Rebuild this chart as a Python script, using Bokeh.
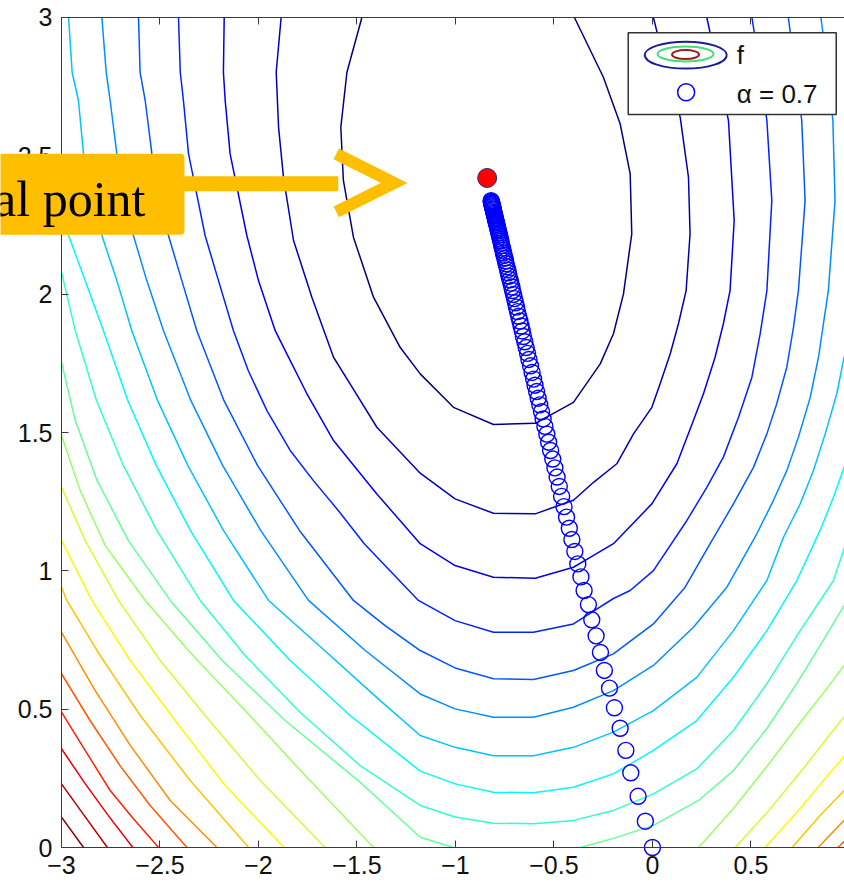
from bokeh.plotting import figure
from bokeh.models import Range1d, LinearAxis, FixedTicker, BoxAnnotation, Label, Arrow, OpenHead
from bokeh.embed import file_html
from bokeh.resources import INLINE

# ---------------- data ----------------
X_TICKS = [-3, -2.5, -2, -1.5, -1, -0.5, 0, 0.5]
X_TICK_LABELS = ["\u22123", "\u22122.5", "\u22122", "\u22121.5", "\u22121", "\u22120.5", "0", "0.5"]
Y_TICKS = [0, 0.5, 1, 1.5, 2, 2.5, 3]
Y_TICK_LABELS = ["0", "0.5", "1", "1.5", "2", "2.5", "3"]

# contour lines of f (level 1 = lowest / innermost, level 20 = highest)
C01_X = [-1.475, -1.551, -1.582, -1.569, -1.518, -1.416, -1.281, -1.179, -1.010, -0.807, -0.595, -0.401, -0.265, -0.198, -0.147, -0.105, -0.113, -0.164, -0.249, -0.396]
C01_Y = [3.0, 2.802, 2.603, 2.411, 2.206, 1.989, 1.808, 1.712, 1.591, 1.529, 1.533, 1.609, 1.748, 1.857, 2.001, 2.218, 2.435, 2.616, 2.784, 3.0]
C02_X = [-1.885, -1.910, -1.898, -1.873, -1.822, -1.729, -1.619, -1.535, -1.399, -1.179, -1.002, -0.807, -0.595, -0.401, -0.299, -0.181, -0.096, -0.003, 0.039, 0.090, 0.132, 0.171, 0.191, 0.183, 0.141, 0.080, 0.024, 0.005]
C02_Y = [3.0, 2.802, 2.603, 2.422, 2.194, 1.989, 1.772, 1.676, 1.519, 1.353, 1.260, 1.208, 1.206, 1.255, 1.320, 1.387, 1.495, 1.591, 1.676, 1.784, 1.893, 2.013, 2.218, 2.422, 2.639, 2.790, 2.945, 3.0]
C03_X = [-2.174, -2.178, -2.169, -2.144, -2.059, -2.000, -1.915, -1.856, -1.754, -1.619, -1.399, -1.179, -1.002, -0.807, -0.595, -0.401, -0.316, -0.198, -0.003, 0.124, 0.208, 0.259, 0.318, 0.360, 0.394, 0.415, 0.386, 0.334, 0.276]
C03_Y = [3.0, 2.802, 2.700, 2.507, 2.212, 2.049, 1.868, 1.784, 1.640, 1.471, 1.278, 1.098, 1.019, 0.977, 0.973, 1.013, 1.049, 1.098, 1.242, 1.387, 1.543, 1.640, 1.772, 1.893, 2.013, 2.266, 2.627, 2.808, 3.0]
C04_X = [-2.406, -2.397, -2.381, -2.355, -2.271, -2.203, -2.127, -2.052, -1.957, -1.839, -1.721, -1.595, -1.463, -1.188, -1.002, -0.807, -0.604, -0.401, -0.198, -0.113, 0.005, 0.175, 0.276, 0.360, 0.437, 0.505, 0.547, 0.581, 0.606, 0.581, 0.547, 0.505]
C04_Y = [3.0, 2.802, 2.700, 2.507, 2.212, 2.049, 1.868, 1.724, 1.579, 1.435, 1.326, 1.218, 1.098, 0.893, 0.820, 0.778, 0.778, 0.808, 0.900, 0.929, 1.001, 1.182, 1.302, 1.411, 1.555, 1.700, 1.857, 2.013, 2.338, 2.627, 2.808, 3.0]
C05_X = [-2.609, -2.601, -2.575, -2.541, -2.457, -2.389, -2.313, -2.175, -2.005, -1.792, -1.518, -1.357, -1.179, -1.002, -0.807, -0.604, -0.401, -0.198, 0.005, 0.166, 0.293, 0.411, 0.513, 0.581, 0.631, 0.682, 0.716, 0.741, 0.775, 0.758, 0.724, 0.690]
C05_Y = [3.0, 2.802, 2.700, 2.507, 2.212, 2.049, 1.868, 1.615, 1.381, 1.146, 0.893, 0.802, 0.712, 0.649, 0.610, 0.607, 0.640, 0.700, 0.808, 0.941, 1.098, 1.242, 1.374, 1.495, 1.604, 1.736, 1.880, 2.013, 2.338, 2.627, 2.808, 3.0]
C06_X = [-2.795, -2.773, -2.753, -2.719, -2.635, -2.567, -2.482, -2.343, -2.182, -1.989, -1.746, -1.458, -1.179, -1.002, -0.807, -0.604, -0.401, -0.198, 0.005, 0.208, 0.378, 0.530, 0.614, 0.682, 0.741, 0.801, 0.843, 0.868, 0.893, 0.927, 0.916, 0.892, 0.855]
C06_Y = [3.0, 2.802, 2.700, 2.507, 2.212, 2.049, 1.868, 1.615, 1.381, 1.146, 0.893, 0.712, 0.555, 0.501, 0.471, 0.471, 0.507, 0.567, 0.658, 0.796, 0.941, 1.134, 1.254, 1.362, 1.483, 1.627, 1.772, 1.893, 2.013, 2.338, 2.627, 2.808, 3.0]
C07_X = [-2.964, -2.946, -2.914, -2.888, -2.844, -2.795, -2.719, -2.643, -2.512, -2.359, -2.178, -1.949, -1.636, -1.382, -1.179, -1.002, -0.807, -0.604, -0.401, -0.198, 0.005, 0.225, 0.411, 0.581, 0.665, 0.750, 0.817, 0.877, 0.936, 0.973, 1.054]
C07_Y = [3.0, 2.802, 2.700, 2.507, 2.356, 2.212, 2.049, 1.868, 1.615, 1.381, 1.146, 0.893, 0.694, 0.531, 0.405, 0.362, 0.332, 0.332, 0.362, 0.417, 0.495, 0.615, 0.784, 0.965, 1.121, 1.242, 1.362, 1.495, 1.640, 1.772, 1.902]
C08_X = [-3.0, -2.964, -2.880, -2.787, -2.663, -2.519, -2.346, -2.127, -1.839, -1.535, -1.179, -1.002, -0.807, -0.604, -0.401, -0.198, 0.005, 0.225, 0.411, 0.581, 0.733, 0.851, 0.919, 0.973, 1.054]
C08_Y = [2.302, 2.212, 2.049, 1.868, 1.615, 1.381, 1.146, 0.893, 0.676, 0.477, 0.276, 0.230, 0.200, 0.198, 0.218, 0.266, 0.351, 0.459, 0.615, 0.784, 0.965, 1.146, 1.266, 1.374, 1.543]
C09_X = [-3.0, -2.990, -2.930, -2.822, -2.686, -2.516, -2.296, -2.068, -1.788, -1.484, -1.179, -1.002, -0.807, -0.604, -0.401, -0.198, 0.005, 0.225, 0.411, 0.581, 0.750, 0.919, 0.973, 1.029]
C09_Y = [2.080, 2.049, 1.868, 1.615, 1.381, 1.146, 0.893, 0.694, 0.488, 0.296, 0.152, 0.110, 0.088, 0.086, 0.098, 0.134, 0.194, 0.284, 0.423, 0.592, 0.784, 0.965, 1.081, 1.200]
C10L_X = [-3.0, -2.930, -2.819, -2.661, -2.448, -2.184, -1.865, -1.494, -1.179, -1.010]
C10L_Y = [1.754, 1.543, 1.326, 1.110, 0.893, 0.676, 0.459, 0.242, 0.037, 0.0]
C10R_X = [-0.367, -0.198, 0.005, 0.234, 0.411, 0.581, 0.733, 0.851, 0.973, 1.054]
C10R_Y = [0.0, 0.033, 0.080, 0.170, 0.278, 0.430, 0.593, 0.730, 0.875, 0.983]
C11L_X = [-3.0, -2.905, -2.778, -2.575, -2.347, -2.068, -1.763, -1.416]
C11L_Y = [1.489, 1.290, 1.091, 0.893, 0.705, 0.495, 0.260, 0.0]
C11R_X = [0.234, 0.411, 0.581, 0.750, 0.877, 0.973, 1.054]
C11R_Y = [0.0, 0.141, 0.293, 0.452, 0.567, 0.658, 0.748]
C12L_X = [-3.0, -2.880, -2.711, -2.499, -2.271, -1.991, -1.662]
C12L_Y = [1.302, 1.110, 0.893, 0.676, 0.477, 0.242, 0.0]
C12R_X = [0.420, 0.581, 0.750, 0.877, 0.973, 1.054]
C12R_Y = [0.0, 0.126, 0.271, 0.387, 0.473, 0.549]
C13L_X = [-3.0, -2.846, -2.651, -2.423, -2.169, -1.870]
C13L_Y = [1.110, 0.893, 0.676, 0.459, 0.224, 0.0]
C13R_X = [0.572, 0.750, 0.877, 0.973, 1.054]
C13R_Y = [0.0, 0.141, 0.249, 0.329, 0.387]
C14L_X = [-3.0, -2.973, -2.804, -2.600, -2.347, -2.050]
C14L_Y = [0.941, 0.893, 0.694, 0.477, 0.242, 0.0]
C14R_X = [0.709, 0.851, 0.973, 1.054]
C14R_Y = [0.0, 0.116, 0.206, 0.271]
C15L_X = [-3.0, -2.829, -2.651, -2.448, -2.211]
C15L_Y = [0.778, 0.567, 0.369, 0.170, 0.0]
C15R_X = [0.841, 0.973, 1.054]
C15R_Y = [0.0, 0.098, 0.159]
C16L_X = [-3.0, -2.855, -2.703, -2.550, -2.363]
C16L_Y = [0.628, 0.459, 0.296, 0.152, 0.0]
C16R_X = [0.942, 1.054]
C16R_Y = [0.0, 0.080]
C17_X = [-3.0, -2.880, -2.753, -2.636, -2.507]
C17_Y = [0.489, 0.351, 0.206, 0.105, 0.0]
C18_X = [-3.0, -2.880, -2.763, -2.638]
C18_Y = [0.357, 0.231, 0.116, 0.0]
C19_X = [-3.0, -2.885, -2.767]
C19_Y = [0.230, 0.116, 0.0]
C20_X = [-3.0, -2.888]
C20_Y = [0.110, 0.0]

# gradient-descent iterates (alpha = 0.7), starting at (0, 0)
PATH_X = [0, -0.036, -0.073, -0.110, -0.135, -0.164, -0.193, -0.218, -0.244, -0.264, -0.286, -0.308, -0.325, -0.347,
          -0.363, -0.379, -0.394, -0.409, -0.422, -0.436, -0.449, -0.461, -0.473, -0.484, -0.495, -0.506, -0.517,
          -0.527, -0.536, -0.546, -0.555, -0.563, -0.572, -0.580, -0.588, -0.596, -0.603,
          -0.611, -0.619, -0.627, -0.634, -0.641, -0.648, -0.655, -0.661, -0.667, -0.673,
          -0.679, -0.685, -0.690, -0.695, -0.700, -0.705, -0.710, -0.714, -0.719, -0.723,
          -0.728, -0.732, -0.735, -0.739, -0.743, -0.746, -0.749, -0.753, -0.756, -0.759,
          -0.762, -0.765, -0.767, -0.770, -0.772, -0.775, -0.777, -0.780, -0.782, -0.784,
          -0.786, -0.788, -0.790, -0.792, -0.794, -0.796, -0.797, -0.799, -0.801, -0.802,
          -0.804, -0.805, -0.807, -0.808, -0.809, -0.810, -0.812, -0.813, -0.814, -0.815,
          -0.816, -0.817, -0.818, -0.819]
PATH_Y = [0, 0.095, 0.185, 0.270, 0.351, 0.431, 0.505, 0.576, 0.640, 0.705, 0.765, 0.823, 0.878, 0.929,
          0.978, 1.025, 1.070, 1.113, 1.154, 1.194, 1.232, 1.269, 1.305, 1.339, 1.372, 1.404, 1.435,
          1.465, 1.494, 1.522, 1.549, 1.575, 1.600, 1.624, 1.648, 1.671, 1.693,
          1.717, 1.741, 1.764, 1.786, 1.807, 1.828, 1.847, 1.867, 1.885, 1.903,
          1.920, 1.937, 1.953, 1.969, 1.984, 1.999, 2.013, 2.026, 2.040, 2.052,
          2.065, 2.077, 2.088, 2.099, 2.110, 2.120, 2.130, 2.140, 2.149, 2.159,
          2.167, 2.176, 2.184, 2.192, 2.199, 2.207, 2.214, 2.221, 2.228, 2.234,
          2.240, 2.246, 2.252, 2.258, 2.263, 2.268, 2.273, 2.278, 2.283, 2.288,
          2.292, 2.296, 2.301, 2.305, 2.308, 2.312, 2.316, 2.319, 2.323, 2.326,
          2.329, 2.332, 2.335, 2.338]

OPT_X = [-0.839]
OPT_Y = [2.420]

N_LEVELS = 20
CONTOUR_ARCS = [
    (1, C01_X, C01_Y), (2, C02_X, C02_Y), (3, C03_X, C03_Y), (4, C04_X, C04_Y), (5, C05_X, C05_Y),
    (6, C06_X, C06_Y), (7, C07_X, C07_Y), (8, C08_X, C08_Y), (9, C09_X, C09_Y),
    (10, C10L_X, C10L_Y), (10, C10R_X, C10R_Y), (11, C11L_X, C11L_Y), (11, C11R_X, C11R_Y),
    (12, C12L_X, C12L_Y), (12, C12R_X, C12R_Y), (13, C13L_X, C13L_Y), (13, C13R_X, C13R_Y),
    (14, C14L_X, C14L_Y), (14, C14R_X, C14R_Y), (15, C15L_X, C15L_Y), (15, C15R_X, C15R_Y),
    (16, C16L_X, C16L_Y), (16, C16R_X, C16R_Y), (17, C17_X, C17_Y), (18, C18_X, C18_Y),
    (19, C19_X, C19_Y), (20, C20_X, C20_Y),
]


def jet(t):
    def c(v):
        return int(round(255 * min(max(v, 0.0), 1.0)))
    r = c(1.5 - abs(4 * t - 3))
    g = c(1.5 - abs(4 * t - 2))
    b = c(1.5 - abs(4 * t - 1))
    return "#%02x%02x%02x" % (r, g, b)


# ---------------- figure ----------------
TICK_FONT = "Liberation Sans"
AXIS_COLOR = "#3a3a3a"
PX_PER_X = 197.0
PX_PER_Y = 276.67
# the frame covers the whole page; the axes are drawn at x = -3, y = 0 and y = 3
X_VIEW = (-3 - 61 / PX_PER_X, 0.975)
Y_VIEW = (-39 / PX_PER_Y, 3 + 17 / PX_PER_Y)

p = figure(width=844, height=886, x_range=Range1d(*X_VIEW), y_range=Range1d(*Y_VIEW),
           output_backend="svg", toolbar_location=None,
           min_border_left=0, min_border_right=0, min_border_top=0, min_border_bottom=0)
p.grid.visible = False
p.outline_line_color = None
p.background_fill_color = "white"
p.border_fill_color = "white"

for ax, ticks, labels, standoff in ((p.xaxis[0], X_TICKS, X_TICK_LABELS, 8), (p.yaxis[0], Y_TICKS, Y_TICK_LABELS, 9)):
    ax.ticker = FixedTicker(ticks=ticks)
    ax.major_label_overrides = {t: l for t, l in zip(ticks, labels)}
    ax.major_tick_in = 7
    ax.major_tick_out = 0
    ax.minor_tick_line_color = None
    ax.axis_line_color = AXIS_COLOR
    ax.major_tick_line_color = AXIS_COLOR
    ax.major_label_text_font = TICK_FONT
    ax.major_label_text_font_size = "25px"
    ax.major_label_text_color = "#111111"
    ax.major_label_standoff = standoff
p.xaxis[0].fixed_location = 0
p.xaxis[0].bounds = (-3, 1)
p.yaxis[0].fixed_location = -3
p.yaxis[0].bounds = (0, 3)

top_axis = LinearAxis(ticker=FixedTicker(ticks=X_TICKS), fixed_location=3, bounds=(-3, 1),
                      major_tick_in=7, major_tick_out=0, minor_tick_line_color=None,
                      axis_line_color=AXIS_COLOR, major_tick_line_color=AXIS_COLOR,
                      major_label_text_color=None)
p.add_layout(top_axis, "above")

# contours
xs = [arc[1] for arc in CONTOUR_ARCS]
ys = [arc[2] for arc in CONTOUR_ARCS]
colors = [jet((arc[0] - 1) / (N_LEVELS - 1)) for arc in CONTOUR_ARCS]
p.multi_line(xs=xs, ys=ys, line_color=colors, line_width=1.5)

# gradient descent iterates
p.scatter(PATH_X, PATH_Y, marker="circle", size=16, fill_color=None, line_color="#0000ff", line_width=1.4)

# optimal point
p.scatter(OPT_X, OPT_Y, marker="circle", size=19, fill_color="#ff0000", line_color="#2a2a80", line_width=1)

# ---------------- legend (drawn by hand) ----------------
legend_box = BoxAnnotation(left=-0.123, right=0.933, bottom=2.649, top=2.945,
                           fill_color="white", fill_alpha=1.0, line_color="#333333", line_width=1.5, line_alpha=1.0)
p.add_layout(legend_box)
p.ellipse(x=[0.169, 0.168, 0.168], y=[2.864, 2.868, 2.866], width=[82, 56, 27], height=[27, 15, 9],
          width_units="screen", height_units="screen", fill_color=None,
          line_color=["#1c1c96", "#44dd77", "#a01c1c"], line_width=2, level="overlay")
p.scatter([0.171], [2.730], marker="circle", size=17, fill_color=None, line_color="#0000ff",
          line_width=1.5, level="overlay")
p.add_layout(Label(x=0.428, y=2.8645, text="f", text_font=TICK_FONT, text_font_size="26px",
                   text_color="#111111", text_baseline="middle", level="overlay"))
p.add_layout(Label(x=0.428, y=2.7217, text="\u03b1 = 0.7", text_font=TICK_FONT, text_font_size="26px",
                   text_color="#111111", text_baseline="middle", level="overlay"))

# ---------------- "Optimal point" callout ----------------
ORANGE = "#ffbf00"
p.add_layout(Arrow(end=None, x_start=-2.40, y_start=2.399, x_end=-1.595, y_end=2.399,
                   line_color=ORANGE, line_width=15))
p.add_layout(Arrow(end=OpenHead(size=58, line_width=12, line_color=ORANGE, line_join="miter"),
                   x_start=-1.40, y_start=2.402, x_end=-1.311, y_end=2.402, line_alpha=0))
p.add_layout(Label(x=-2.3756, y=2.3614, text="Optimal point", text_align="right", text_baseline="alphabetic",
                   text_font="Liberation Serif", text_font_size="50px", text_color="black",
                   background_fill_color=ORANGE, background_fill_alpha=1.0,
                   padding=dict(left=10, right=39, top=17, bottom=8), border_radius=4))

open("out.html", "w").write(file_html(p, INLINE, title="gradient descent"))
